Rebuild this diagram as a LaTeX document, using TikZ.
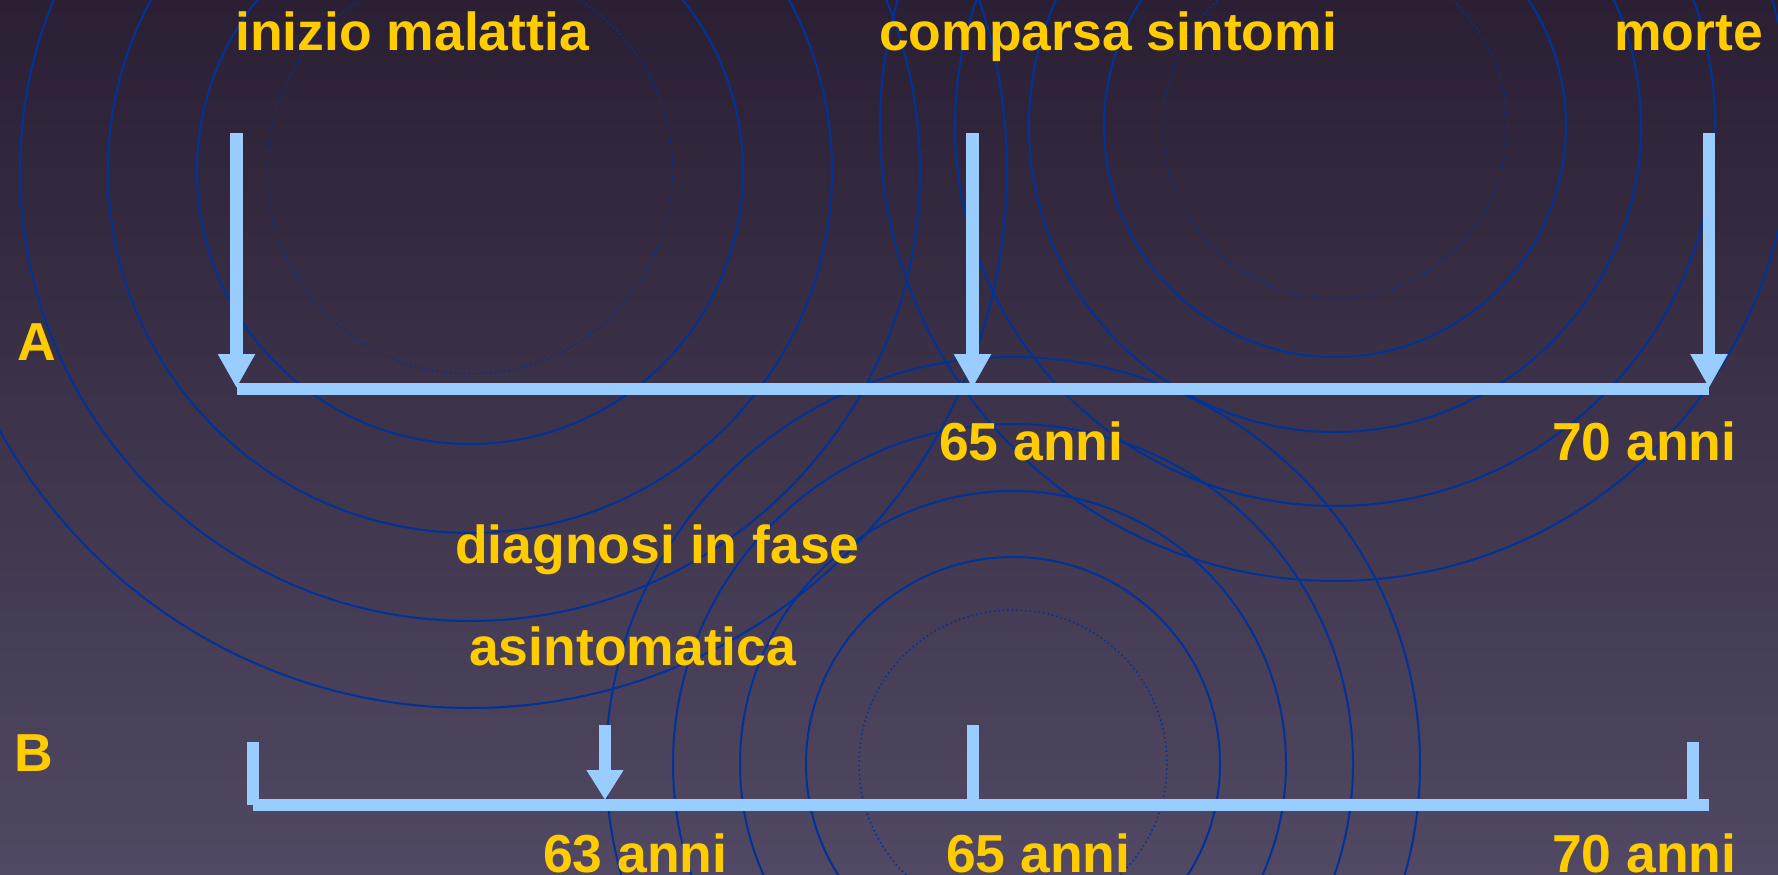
\documentclass[tikz,border=0pt]{standalone}
\usepackage{fontspec}
\setmainfont{Liberation Sans}
\usetikzlibrary{arrows.meta}
\definecolor{bgtop}{HTML}{2A1F33}
\definecolor{bgbot}{HTML}{514863}
\definecolor{ring}{HTML}{003399}
\definecolor{lblue}{HTML}{99CCFF}
\definecolor{gold}{HTML}{FFCC00}
\begin{document}
\begin{tikzpicture}[x=1pt,y=-1pt,
  ringline/.style={draw=ring,line width=2pt},
  ringdot/.style={draw=ring,line width=1.5pt,dash pattern=on 1.5pt off 3pt},
  bigarrow/.style={draw=lblue,line width=12.5pt,-{Triangle[width=35pt,length=34pt]}},
  smallarrow/.style={draw=lblue,line width=12pt,-{Triangle[width=35pt,length=30pt]}},
  barline/.style={draw=lblue,line width=12pt},
  tickline/.style={draw=lblue,line width=12pt},
  lbl/.style={text=gold,font=\fontsize{53.5}{60}\selectfont\bfseries,anchor=base west,inner sep=0pt}]
\useasboundingbox (0,0) rectangle (1778,875);
\shade[top color=bgtop,bottom color=bgbot] (0,0) rectangle (1778,875);
\begin{scope}
\clip (0,0) rectangle (1778,875);
% set 1
\coordinate (c1) at (470,171);
\foreach \r in {273,362,450,537} \draw[ringline] (c1) circle[radius=\r];
\draw[ringdot] (c1) circle[radius=203];
% set 2
\coordinate (c2) at (1335,126);
\foreach \r in {231,306,380,455} \draw[ringline] (c2) circle[radius=\r];
\draw[ringdot] (c2) circle[radius=172];
% set 3
\coordinate (c3) at (1013,764);
\foreach \r in {207,273,340,407} \draw[ringline] (c3) circle[radius=\r];
\draw[ringdot] (c3) circle[radius=154];
\end{scope}

% timeline A
\coordinate (a1s) at (236.5,133);
\coordinate (a1e) at (236.5,388);
\coordinate (a2s) at (972.5,133);
\coordinate (a2e) at (972.5,388);
\coordinate (a3s) at (1709,133);
\coordinate (a3e) at (1709,388);
\coordinate (al) at (236.5,389);
\coordinate (ar) at (1709,389);
\draw[barline] (al) -- (ar);
\draw[bigarrow] (a1s) -- (a1e);
\draw[bigarrow] (a2s) -- (a2e);
\draw[bigarrow] (a3s) -- (a3e);

% timeline B
\coordinate (bl) at (252.5,805);
\coordinate (br) at (1709,805);
\coordinate (blt) at (252.5,742);
\coordinate (brt) at (1693,742);
\coordinate (brb) at (1693,805);
\coordinate (b63s) at (605,725);
\coordinate (b63e) at (605,800);
\coordinate (b65s) at (973,725);
\coordinate (b65e) at (973,805);
\draw[barline] (bl) -- (br);
\draw[tickline] (blt) -- (bl);
\draw[tickline] (brt) -- (brb);
\draw[tickline] (b65s) -- (b65e);
\draw[smallarrow] (b63s) -- (b63e);

% labels
\node[lbl] (t1) at (235,51) {inizio malattia};
\node[lbl] (t2) at (879,51) {comparsa sintomi};
\node[lbl] (t3) at (1614,51) {morte};
\node[lbl] (tA) at (17,360) {A};
\node[lbl] (tB) at (14,771) {B};
\node[lbl] (t65a) at (939,460) {65 anni};
\node[lbl] (t70a) at (1552,460) {70 anni};
\node[lbl] (td1) at (455,563) {diagnosi in fase};
\node[lbl] (td2) at (469,665) {asintomatica};
\node[lbl] (t63) at (543,872) {63 anni};
\node[lbl] (t65b) at (946,872) {65 anni};
\node[lbl] (t70b) at (1552,872) {70 anni};
\end{tikzpicture}
\end{document}
